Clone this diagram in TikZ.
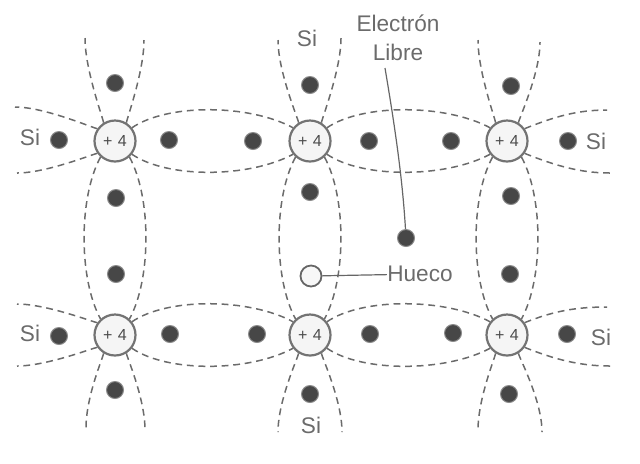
\documentclass[tikz,border=0pt]{standalone}
\usepackage{fontspec}
\setmainfont{Liberation Sans}

\tikzset{
	atom/.style={circle, draw=black!55, line width=1.1pt, fill=black!4, minimum size=20.5pt, inner sep=0pt, text=black!70, font=\fontsize{8}{8}\selectfont},
	electron/.style={circle, fill=black!72, draw=black!45, line width=.5pt, minimum size=8.5pt, inner sep=0pt},
	hole/.style={circle, draw=black!60, line width=.9pt, fill=black!3, minimum size=10.5pt, inner sep=0pt},
	bond/.style={black!58, line width=.75pt, dash pattern=on 3.4pt off 2.4pt},
	leader/.style={black!60, line width=.6pt},
	etiqueta/.style={text=black!58, font=\fontsize{11.3}{14.5}\selectfont, inner sep=0pt}
}

\begin{document}
\begin{tikzpicture}[x=0.5pt, y=-0.5pt]
		\useasboundingbox (0,0) rectangle (640,463);
		
		% --- 1. Atoms ---
		\foreach \n/\x/\y in {aa/115/141, ab/310/141, ac/507/141, ba/115/335, bb/310/335, bc/507/335} {
			\node[atom] (\n) at (\x,\y) {+\,\,4};
		}
		
		% --- 2. Valence electrons ---
		\foreach \n/\x/\y in {e1/115/83, e2/310/85, e3/511/86, e4/59/140, e5/169/140, e6/253/141, e7/369/141, e8/451/141, e9/568/141, e10/116/198, e11/310/192, e12/511/196, e13/116/274, e14/510/274, e15/59/336, e16/170/334, e17/257/334, e18/370/334, e19/453/333, e20/567/334, e21/115/390, e22/310/394, e23/509/394} {
			\node[electron] (\n) at (\x,\y) {};
		}
		
		% --- 3. Bonds between atoms ---
		\foreach \p/\q in {aa/ab, ab/ac, ba/bb, bb/bc} {
			\draw[bond] (\p.38) .. controls +(35,-24) and +(-45,-24) .. (\q.142);
			\draw[bond] (\p.-38) .. controls +(35,24) and +(-45,24) .. (\q.-142);
		}
		\foreach \p/\q in {aa/ba, ab/bb, ac/bc} {
			\draw[bond] (\p.-132) .. controls +(-22,40) and +(-22,-40) .. (\q.132);
			\draw[bond] (\p.-48) .. controls +(22,40) and +(22,-40) .. (\q.48);
		}
		
		% --- 4. Open ends of the outer bonds ---
		\foreach \n/\x/\y/\a in {ta/85/38/aa.122, tb/144/40/aa.58, tc/278/40/ab.122, td/341/38/ab.58, te/478/40/ac.122, tf/540/42/ac.58} {
			\coordinate (\n) at (\x,\y);
			\draw[bond] (\a) .. controls +(0,-3) and +(0,32) .. (\n);
		}
		\foreach \n/\x/\y/\a in {da/86/428/ba.-122, db/145/430/ba.-58, dc/278/432/bb.-122, dd/342/432/bb.-58, de/478/430/bc.-122, df/542/432/bc.-58} {
			\coordinate (\n) at (\x,\y);
			\draw[bond] (\a) .. controls +(0,3) and +(0,-32) .. (\n);
		}
		\foreach \n/\x/\y/\a in {la/15/107/aa.145, lb/17/173/aa.-145, lc/17/304/ba.145, ld/17/366/ba.-145} {
			\coordinate (\n) at (\x,\y);
			\draw[bond] (\a) .. controls +(-3,0) and +(30,0) .. (\n);
		}
		\foreach \n/\x/\y/\a in {ra/607/110/ac.35, rc/607/307/bc.35} {
			\coordinate (\n) at (\x,\y);
			\draw[bond] (\a) .. controls +(30,-12) and +(-30,0) .. (\n);
		}
		\foreach \n/\x/\y/\a in {rb/610/173/ac.-35, rd/610/366/bc.-35} {
			\coordinate (\n) at (\x,\y);
			\draw[bond] (\a) .. controls +(30,12) and +(-30,0) .. (\n);
		}
		
		% --- 5. Labels ---
		\foreach \n/\x/\y in {sa/30/137, sb/596/141, sc/30/333, sd/601/337, se/307/38, sf/311/425} {
			\node[etiqueta] (\n) at (\x,\y) {Si};
		}
		\node[etiqueta, align=center] (libre) at (398,38) {Electrón\\Libre};
		\node[etiqueta] (hueco) at (420,274) {Hueco};
		
		% --- 6. Free electron and hole ---
		\node[electron] (free) at (406,238) {};
		\node[hole] (hole) at (311,276) {};
		\coordinate (inicio) at (385,68);
		\draw[leader] (inicio) .. controls +(7,42) and +(-4,-68) .. (free);
		\draw[leader] (hole) -- (hueco);
		
	\end{tikzpicture}
\end{document}
